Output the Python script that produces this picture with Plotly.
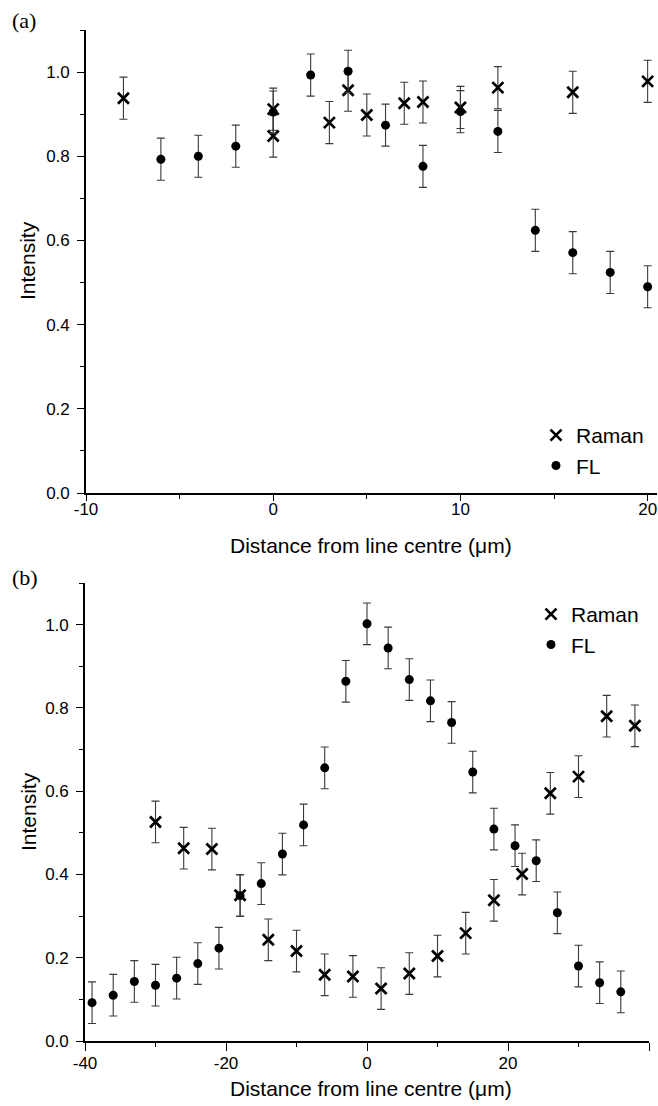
import plotly.graph_objects as go

# ---------------- Panel (a) data ----------------
a_raman_x = [-8, 0, 0, 3, 4, 5, 7, 8, 10, 12, 16, 20]
a_raman_y = [0.938, 0.912, 0.848, 0.880, 0.957, 0.898, 0.926, 0.929, 0.916, 0.963, 0.952, 0.978]
a_raman_err = [0.05, 0.05, 0.05, 0.05, 0.05, 0.05, 0.05, 0.05, 0.05, 0.05, 0.05, 0.05]

a_fl_x = [-6, -4, -2, 0, 2, 4, 6, 8, 10, 12, 14, 16, 18, 20]
a_fl_y = [0.793, 0.800, 0.824, 0.905, 0.993, 1.002, 0.874, 0.776, 0.906, 0.859, 0.624, 0.571, 0.524, 0.490]
a_fl_err = [0.05, 0.05, 0.05, 0.05, 0.05, 0.05, 0.05, 0.05, 0.05, 0.05, 0.05, 0.05, 0.05, 0.05]

a_xticks = [-10, 0, 10, 20]
a_xticklabels = ["-10", "0", "10", "20"]

# ---------------- Panel (b) data ----------------
b_raman_x = [-30, -26, -22, -18, -14, -10, -6, -2, 2, 6, 10, 14, 18, 22, 26, 30, 34, 38]
b_raman_y = [0.526, 0.463, 0.461, 0.350, 0.243, 0.216, 0.159, 0.155, 0.126, 0.162, 0.204, 0.259,
             0.338, 0.401, 0.595, 0.635, 0.780, 0.757]
b_raman_err = [0.05, 0.05, 0.05, 0.05, 0.05, 0.05, 0.05, 0.05, 0.05, 0.05, 0.05, 0.05,
               0.05, 0.05, 0.05, 0.05, 0.05, 0.05]

b_fl_x = [-39, -36, -33, -30, -27, -24, -21, -18, -15, -12, -9, -6, -3, 0, 3, 6, 9, 12, 15, 18,
          21, 24, 27, 30, 33, 36]
b_fl_y = [0.092, 0.110, 0.143, 0.134, 0.151, 0.186, 0.223, 0.349, 0.378, 0.449, 0.519, 0.656,
          0.864, 1.002, 0.944, 0.868, 0.817, 0.765, 0.646, 0.509, 0.469, 0.433, 0.308, 0.180,
          0.140, 0.118]
b_fl_err = [0.05, 0.05, 0.05, 0.05, 0.05, 0.05, 0.05, 0.05, 0.05, 0.05, 0.05, 0.05, 0.05,
            0.05, 0.05, 0.05, 0.05, 0.05, 0.05, 0.05, 0.05, 0.05, 0.05, 0.05, 0.05, 0.05]

b_xticks = [-40, -20, 0, 20, 40]
b_xticklabels = ["-40", "-20", "0", "20", "40"]

y_ticks = [0.0, 0.2, 0.4, 0.6, 0.8, 1.0]
y_ticklabels = ["0.0", "0.2", "0.4", "0.6", "0.8", "1.0"]

x_title = "Distance from line centre (\u03bcm)"
y_title = "Intensity"
panel_labels = ["(a)", "(b)"]

W, H = 658, 1106
FONT = "Liberation Sans, Arial, sans-serif"
SERIF = "Liberation Serif, Times New Roman, serif"
ERR = dict(type="data", color="#3a3a3a", thickness=1.1, width=4)

fig = go.Figure()


def add_series(xs, ys, errs, name, xa, ya, legend, kind):
    if kind == "x":
        marker = dict(symbol="x-thin-open", size=11, color="black",
                      line=dict(width=2.7, color="black"))
    else:
        marker = dict(symbol="circle", size=9, color="black", line=dict(width=0))
    fig.add_trace(go.Scatter(
        x=xs, y=ys, mode="markers", name=name, marker=marker,
        error_y=dict(array=errs, **ERR), xaxis=xa, yaxis=ya,
        legend=legend, cliponaxis=False,
    ))


add_series(a_raman_x, a_raman_y, a_raman_err, "Raman", "x", "y", "legend", "x")
add_series(a_fl_x, a_fl_y, a_fl_err, "FL", "x", "y", "legend", "o")
add_series(b_raman_x, b_raman_y, b_raman_err, "Raman", "x2", "y2", "legend2", "x")
add_series(b_fl_x, b_fl_y, b_fl_err, "FL", "x2", "y2", "legend2", "o")


def fx(p):
    return p / W


def fy(p):
    return 1 - p / H


axis_common = dict(
    showline=True, linecolor="black", linewidth=1.6, ticks="outside",
    tickwidth=1.3, tickcolor="black", showgrid=False, zeroline=False, automargin=False,
    tickfont=dict(family=FONT, size=17, color="black"), tickmode="array",
)
minor_common = dict(ticks="outside", ticklen=4, tickcolor="black", tickwidth=1.1)

fig.update_layout(
    width=W, height=H, margin=dict(l=0, r=0, t=0, b=0),
    paper_bgcolor="white", plot_bgcolor="white",
    xaxis=dict(domain=[fx(86), fx(657)], range=[-10, 20.5], anchor="y",
               tickvals=a_xticks, ticktext=a_xticklabels, ticklen=6, ticklabelstandoff=-6,
               minor=dict(dtick=5, tick0=0, **minor_common), **axis_common),
    yaxis=dict(domain=[fy(493), fy(30)], range=[0, 1.1], anchor="x",
               tickvals=y_ticks, ticktext=y_ticklabels, ticklen=7, ticklabelstandoff=4,
               minor=dict(dtick=0.1, tick0=0, **minor_common), **axis_common),
    xaxis2=dict(domain=[fx(85), fx(649)], range=[-40, 40], anchor="y2",
                tickvals=b_xticks, ticktext=b_xticklabels, ticklen=8, ticklabelstandoff=-2,
                minor=dict(dtick=10, tick0=0, **minor_common), **axis_common),
    yaxis2=dict(domain=[fy(1041), fy(583)], range=[0, 1.1], anchor="x2",
                tickvals=y_ticks, ticktext=y_ticklabels, ticklen=7, ticklabelstandoff=4,
                minor=dict(dtick=0.1, tick0=0, **minor_common), **axis_common),
    legend=dict(x=fx(536), y=fy(415), xanchor="left", yanchor="top",
                font=dict(family=FONT, size=21, color="black"), bgcolor="rgba(0,0,0,0)",
                itemwidth=30, tracegroupgap=0),
    legend2=dict(x=fx(531), y=fy(594), xanchor="left", yanchor="top",
                 font=dict(family=FONT, size=21, color="black"), bgcolor="rgba(0,0,0,0)",
                 itemwidth=30, tracegroupgap=0),
    showlegend=True,
)

# axis titles
for yc in (545, 1088):
    fig.add_annotation(text=x_title, x=fx(371), y=fy(yc), xref="paper", yref="paper",
                       xanchor="center", yanchor="middle", showarrow=False,
                       font=dict(family=FONT, size=21, color="black"))
for yc in (261, 812):
    fig.add_annotation(text=y_title, x=fx(28), y=fy(yc), xref="paper", yref="paper",
                       xanchor="center", yanchor="middle", showarrow=False, textangle=-90,
                       font=dict(family=FONT, size=21, color="black"))

# panel labels
for lab, yc in zip(panel_labels, (21, 577)):
    fig.add_annotation(text=lab, x=fx(10), y=fy(yc), xref="paper", yref="paper",
                       xanchor="left", yanchor="middle", showarrow=False,
                       font=dict(family=SERIF, size=22, color="black"))

# remove the browser's default 8 px page margin so the figure fills the window exactly
fig.write_html("out.html", config={"displayModeBar": False},
               post_script="document.body.style.margin='0';document.body.style.overflow='hidden';")
